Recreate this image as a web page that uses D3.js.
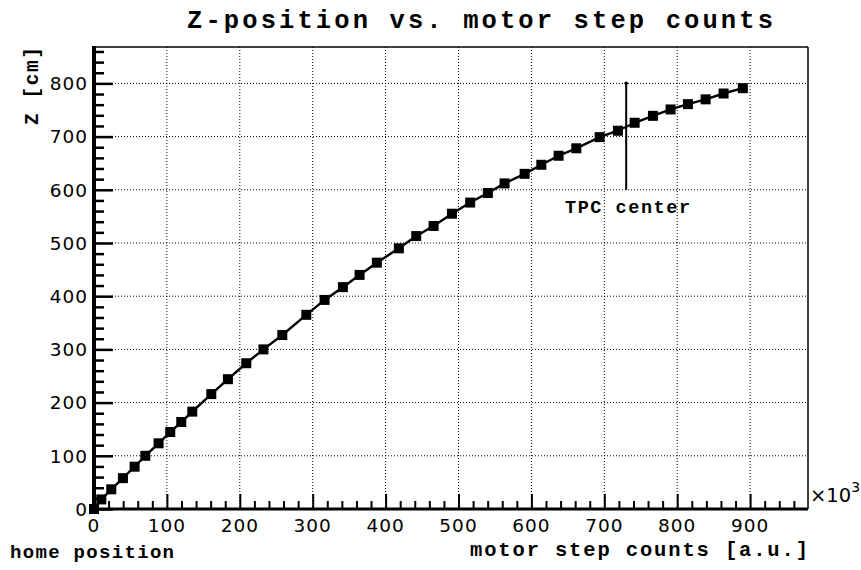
<!DOCTYPE html>
<html>
<head>
<meta charset="utf-8">
<script src="https://cdn.jsdelivr.net/npm/d3@7"></script>
<style>
  html, body { margin: 0; padding: 0; background: #fff; }
  svg { display: block; }
</style>
</head>
<body>
<div id="chart"></div>
<script>
// ---- data (x in units of 10^3 motor steps, z in cm) ----
const stepCounts = [0, 10, 23.7, 39.7, 55.7, 70.4, 88.6, 104.6, 119.7, 134.8,
  160.9, 183.7, 208.9, 232.4, 258.3, 291.2, 316.3, 341.4, 364.3, 388,
  418.2, 442, 465.8, 491, 516, 540.3, 563.2, 590.7, 613.6, 637.3,
  661.6, 693.6, 718.7, 741.6, 766.7, 790.9, 814.7, 839, 863.6, 890];
const zPositions = [0, 18, 37, 58, 79.5, 100, 123.5, 144.7, 163.5, 183,
  216, 244, 274, 300, 327, 365, 393, 417, 440, 463,
  490, 513, 532, 555, 576, 594, 612, 630, 647, 664,
  678, 699, 711, 726, 739, 751, 761, 770, 781, 791];
const xTicks = [0, 100, 200, 300, 400, 500, 600, 700, 800, 900];
const yTicks = [0, 100, 200, 300, 400, 500, 600, 700, 800];
const tpcCenterX = 730;
const tpcLine = [600, 800];

(function () {
const W = 861, H = 570;
const mL = 94, mR = 808, mT = 47, mB = 509;

const svg = d3.select("#chart").append("svg").attr("width", W).attr("height", H);

const x = d3.scaleLinear().domain([0, 979.4]).range([mL, mR]);
const y = d3.scaleLinear().domain([0, 868.4]).range([mB, mT]);

// grid
const grid = svg.append("g").attr("stroke", "#000").attr("stroke-width", 1)
  .attr("stroke-dasharray", "1,2");
xTicks.filter(d => d > 0).forEach(d => {
  grid.append("line").attr("x1", x(d)).attr("x2", x(d)).attr("y1", mT).attr("y2", mB);
});
yTicks.filter(d => d > 0).forEach(d => {
  grid.append("line").attr("x1", mL).attr("x2", mR).attr("y1", y(d)).attr("y2", y(d));
});

// frame (top/right thin)
svg.append("line").attr("x1", mL).attr("x2", mR).attr("y1", mT).attr("y2", mT)
  .attr("stroke", "#000").attr("stroke-width", 1.5);
svg.append("line").attr("x1", mR).attr("x2", mR).attr("y1", mT).attr("y2", mB)
  .attr("stroke", "#000").attr("stroke-width", 1.5);

// x axis (ticks inward)
const xMinor = d3.range(0, 980, 20);
const xAxis = d3.axisTop(x).tickValues(xMinor).tickSize(8).tickFormat("");
const gx = svg.append("g").attr("transform", `translate(0,${mB})`).call(xAxis);
gx.selectAll(".tick line").attr("stroke-width", 2)
  .attr("y2", d => (d % 100 === 0 ? -15 : -8));
gx.select(".domain").remove();
svg.append("line").attr("x1", mL - 2).attr("x2", mR).attr("y1", mB).attr("y2", mB)
  .attr("stroke", "#000").attr("stroke-width", 3);

// y axis (ticks inward)
const yMinor = d3.range(0, 869, 20);
const yAxis = d3.axisRight(y).tickValues(yMinor).tickSize(10).tickFormat("");
const gy = svg.append("g").attr("transform", `translate(${mL},0)`).call(yAxis);
gy.selectAll(".tick line").attr("stroke-width", 2.5)
  .attr("x2", d => (d % 100 === 0 ? 19 : 10));
gy.select(".domain").remove();
svg.append("line").attr("x1", mL).attr("x2", mL).attr("y1", mT - 1).attr("y2", mB + 1)
  .attr("stroke", "#000").attr("stroke-width", 4);

// tick labels
const tickFont = "DejaVu Sans, Verdana, sans-serif";
svg.append("g").selectAll("text").data(xTicks).join("text")
  .attr("x", d => x(d)).attr("y", 531.5)
  .attr("text-anchor", "middle").attr("font-family", tickFont).attr("font-size", 18.5)
  .attr("letter-spacing", 1).text(d => d);
svg.append("g").selectAll("text").data(yTicks).join("text")
  .attr("x", 88).attr("y", d => y(d) + 6.8)
  .attr("text-anchor", "end").attr("font-family", tickFont).attr("font-size", 18.5)
  .attr("letter-spacing", 1).text(d => d);

// x10^3
const mult = svg.append("text").attr("x", 810).attr("y", 502)
  .attr("font-family", tickFont).attr("font-size", 19.5);
mult.append("tspan").text("×10");
mult.append("tspan").attr("font-size", 14).attr("dy", -10).text("3");

// data line + markers
const line = d3.line().x((d, i) => x(stepCounts[i])).y(d => y(d));
svg.append("path").datum(zPositions).attr("d", line)
  .attr("fill", "none").attr("stroke", "#000").attr("stroke-width", 2.4);
const ms = 10;
svg.append("g").selectAll("rect").data(zPositions).join("rect")
  .attr("x", (d, i) => x(stepCounts[i]) - ms / 2).attr("y", d => y(d) - ms / 2)
  .attr("width", ms).attr("height", ms).attr("fill", "#000");

// TPC center marker
svg.append("line").attr("x1", x(tpcCenterX)).attr("x2", x(tpcCenterX))
  .attr("y1", y(tpcLine[0])).attr("y2", y(tpcLine[1]))
  .attr("stroke", "#000").attr("stroke-width", 2);
svg.append("circle").attr("cx", x(tpcCenterX)).attr("cy", y(tpcLine[1])).attr("r", 1.8).attr("fill", "#000");

const mono = "Liberation Mono, Courier New, monospace";
svg.append("text").attr("x", 565).attr("y", 213)
  .attr("font-family", mono).attr("font-weight", "bold").attr("font-size", 18.5)
  .attr("textLength", 125).attr("lengthAdjust", "spacing")
  .text("TPC center");

// titles
svg.append("text").attr("x", 187).attr("y", 28)
  .attr("font-family", mono).attr("font-weight", "bold").attr("font-size", 25.5)
  .attr("textLength", 586).attr("lengthAdjust", "spacing")
  .text("Z-position vs. motor step counts");
svg.append("text").attr("x", 470).attr("y", 556)
  .attr("font-family", mono).attr("font-weight", "bold").attr("font-size", 20.5)
  .attr("textLength", 338).attr("lengthAdjust", "spacing")
  .text("motor step counts [a.u.]");
svg.append("text").attr("x", 10).attr("y", 558)
  .attr("font-family", mono).attr("font-weight", "bold").attr("font-size", 19)
  .attr("textLength", 164).attr("lengthAdjust", "spacing")
  .text("home position");
svg.append("text").attr("transform", "translate(38,125) rotate(-90)")
  .attr("font-family", mono).attr("font-weight", "bold").attr("font-size", 19.5)
  .attr("textLength", 78).attr("lengthAdjust", "spacing")
  .text("Z [cm]");
})();
</script>
</body>
</html>
